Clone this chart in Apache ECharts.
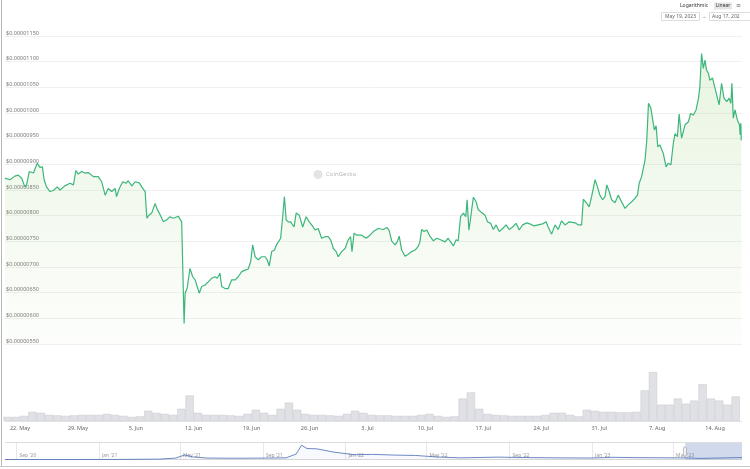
<!DOCTYPE html>
<html><head><meta charset="utf-8">
<script src="https://cdn.jsdelivr.net/npm/echarts@6/dist/echarts.min.js"></script>
<style>html,body{margin:0;padding:0;background:#fff}#c{width:750px;height:469px}</style>
</head><body><div id="c"></div>
<script>
// Price (USD x 1e-6)
const priceTimes = [
'2023-05-20 04:00','2023-05-20 19:00','2023-05-21 09:00','2023-05-21 19:00','2023-05-22 05:00','2023-05-22 14:00','2023-05-22 19:00','2023-05-23 03:00','2023-05-23 15:00','2023-05-23 20:00',
'2023-05-24 02:00','2023-05-24 10:00','2023-05-24 17:00','2023-05-24 22:00','2023-05-25 05:00','2023-05-25 15:00','2023-05-26 01:00','2023-05-26 12:00','2023-05-26 20:00','2023-05-27 10:00',
'2023-05-28 01:00','2023-05-28 11:00','2023-05-28 18:00','2023-05-29 01:00','2023-05-29 11:00','2023-05-29 20:00','2023-05-30 06:00','2023-05-30 21:00','2023-05-31 11:00','2023-05-31 21:00',
'2023-06-01 07:00','2023-06-01 16:00','2023-06-02 02:00','2023-06-02 12:00','2023-06-02 16:00','2023-06-03 00:00','2023-06-03 10:00','2023-06-03 19:00','2023-06-04 02:00','2023-06-04 12:00',
'2023-06-04 22:00','2023-06-05 10:00','2023-06-05 17:00','2023-06-06 03:00','2023-06-06 08:00','2023-06-06 14:00','2023-06-06 22:00','2023-06-07 08:00','2023-06-07 13:00','2023-06-07 20:00',
'2023-06-08 08:00','2023-06-08 18:00','2023-06-09 03:00','2023-06-09 13:00','2023-06-10 03:00','2023-06-10 13:00','2023-06-10 17:00','2023-06-10 20:00','2023-06-10 23:00','2023-06-11 05:00',
'2023-06-11 13:00','2023-06-11 21:00','2023-06-12 04:00','2023-06-12 10:00','2023-06-12 16:00','2023-06-12 23:00','2023-06-13 09:00','2023-06-13 18:00','2023-06-14 04:00','2023-06-14 14:00',
'2023-06-14 20:00','2023-06-15 04:00','2023-06-15 09:00','2023-06-15 19:00','2023-06-16 04:00','2023-06-16 14:00','2023-06-17 00:00','2023-06-17 09:00','2023-06-17 19:00','2023-06-18 05:00',
'2023-06-18 14:00','2023-06-18 21:00','2023-06-19 03:00','2023-06-19 10:00','2023-06-19 19:00','2023-06-20 05:00','2023-06-20 15:00','2023-06-20 21:00','2023-06-21 03:00','2023-06-21 10:00',
'2023-06-21 18:00','2023-06-22 00:00','2023-06-22 05:00','2023-06-22 12:00','2023-06-22 18:00','2023-06-22 23:00','2023-06-23 04:00','2023-06-23 10:00','2023-06-23 17:00','2023-06-24 03:00',
'2023-06-24 09:00','2023-06-24 18:00','2023-06-25 04:00','2023-06-25 14:00','2023-06-25 23:00','2023-06-26 06:00','2023-06-26 16:00','2023-06-27 01:00','2023-06-27 11:00','2023-06-27 21:00',
'2023-06-28 06:00','2023-06-28 13:00','2023-06-28 21:00','2023-06-29 05:00','2023-06-29 11:00','2023-06-29 21:00','2023-06-30 07:00','2023-06-30 16:00','2023-06-30 23:00','2023-07-01 03:00',
'2023-07-01 09:00','2023-07-01 17:00','2023-07-02 07:00','2023-07-02 20:00','2023-07-03 07:00','2023-07-03 17:00','2023-07-04 07:00','2023-07-04 12:00','2023-07-04 22:00','2023-07-05 08:00',
'2023-07-05 15:00','2023-07-05 22:00','2023-07-06 08:00','2023-07-06 14:00','2023-07-06 20:00','2023-07-07 03:00','2023-07-07 13:00','2023-07-07 22:00','2023-07-08 08:00','2023-07-08 18:00',
'2023-07-09 03:00','2023-07-09 08:00','2023-07-09 13:00','2023-07-09 20:00','2023-07-10 04:00','2023-07-10 13:00','2023-07-10 23:00','2023-07-11 09:00','2023-07-11 20:00','2023-07-12 09:00',
'2023-07-12 18:00','2023-07-13 01:00','2023-07-13 09:00','2023-07-13 17:00','2023-07-13 23:00','2023-07-14 06:00','2023-07-14 14:00','2023-07-14 21:00','2023-07-15 01:00','2023-07-15 06:00',
'2023-07-15 11:00','2023-07-15 19:00','2023-07-16 03:00','2023-07-16 09:00','2023-07-16 19:00','2023-07-17 05:00','2023-07-17 12:00','2023-07-17 21:00','2023-07-18 05:00','2023-07-18 13:00',
'2023-07-18 22:00','2023-07-19 08:00','2023-07-19 18:00','2023-07-20 03:00','2023-07-20 13:00','2023-07-20 23:00','2023-07-21 08:00','2023-07-21 18:00','2023-07-22 06:00','2023-07-22 15:00',
'2023-07-23 03:00','2023-07-23 15:00','2023-07-24 04:00','2023-07-24 14:00','2023-07-24 20:00','2023-07-25 06:00','2023-07-25 16:00','2023-07-26 01:00','2023-07-26 11:00','2023-07-26 21:00',
'2023-07-27 09:00','2023-07-28 02:00','2023-07-28 12:00','2023-07-28 21:00','2023-07-29 02:00','2023-07-29 12:00','2023-07-29 19:00','2023-07-30 02:00','2023-07-30 12:00','2023-07-30 19:00',
'2023-07-31 02:00','2023-07-31 10:00','2023-07-31 17:00','2023-07-31 22:00','2023-08-01 05:00','2023-08-01 12:00','2023-08-01 22:00','2023-08-02 07:00','2023-08-02 17:00','2023-08-03 03:00',
'2023-08-03 12:00','2023-08-03 22:00','2023-08-04 08:00','2023-08-04 15:00','2023-08-04 20:00','2023-08-05 03:00','2023-08-05 13:00','2023-08-05 18:00','2023-08-05 23:00','2023-08-06 06:00',
'2023-08-06 11:00','2023-08-06 16:00','2023-08-06 21:00','2023-08-07 02:00','2023-08-07 08:00','2023-08-07 18:00','2023-08-08 02:00','2023-08-08 08:00','2023-08-08 16:00','2023-08-08 23:00',
'2023-08-09 04:00','2023-08-09 11:00','2023-08-09 16:00','2023-08-09 23:00','2023-08-10 09:00','2023-08-10 19:00','2023-08-11 01:00','2023-08-11 09:00','2023-08-11 17:00','2023-08-12 00:00',
'2023-08-12 04:00','2023-08-12 09:00','2023-08-12 14:00','2023-08-12 19:00','2023-08-12 23:00','2023-08-13 05:00','2023-08-13 09:00','2023-08-13 17:00','2023-08-14 00:00','2023-08-14 05:00',
'2023-08-14 12:00','2023-08-14 19:00','2023-08-15 02:00','2023-08-15 10:00','2023-08-15 17:00','2023-08-15 22:00','2023-08-16 01:00','2023-08-16 05:00','2023-08-16 10:00','2023-08-16 17:00',
'2023-08-16 23:00','2023-08-17 01:00','2023-08-17 03:00','2023-08-17 04:00'
];
const priceValues = [
8.73,8.70,8.77,8.79,8.73,8.56,8.60,8.86,8.83,8.92,
9.02,8.94,8.95,8.70,8.56,8.47,8.49,8.56,8.50,8.58,
8.63,8.60,8.88,8.81,8.86,8.83,8.84,8.76,8.76,8.66,
8.40,8.53,8.47,8.53,8.37,8.53,8.66,8.63,8.68,8.58,
8.66,8.64,8.56,8.47,7.95,8.01,8.05,8.24,8.14,8.05,
7.88,7.92,7.98,7.95,7.99,7.88,7.86,5.90,6.49,6.59,
6.97,6.81,6.75,6.62,6.49,6.62,6.65,6.71,6.78,6.81,
6.78,6.88,6.62,6.58,6.58,6.75,6.75,6.81,6.91,6.94,
6.96,7.10,7.43,7.20,7.14,7.20,7.20,7.14,7.02,7.30,
7.33,7.43,7.40,7.56,7.98,8.37,7.92,7.88,7.88,7.78,
8.05,8.01,7.78,7.98,7.88,7.82,7.72,7.75,7.56,7.59,
7.59,7.53,7.36,7.30,7.20,7.30,7.36,7.53,7.59,7.30,
7.66,7.62,7.62,7.56,7.62,7.69,7.75,7.77,7.73,7.77,
7.71,7.51,7.43,7.49,7.60,7.33,7.21,7.25,7.30,7.33,
7.40,7.49,7.73,7.69,7.72,7.60,7.51,7.56,7.53,7.49,
7.56,7.49,7.41,7.53,7.51,7.98,8.05,7.98,8.31,7.72,
7.95,8.36,8.27,8.12,8.06,8.01,7.88,7.85,7.73,7.82,
7.69,7.75,7.82,7.73,7.78,7.85,7.72,7.82,7.86,7.84,
7.80,7.82,7.84,7.88,7.78,7.64,7.82,7.73,7.90,7.82,
7.88,7.86,7.82,7.82,8.32,8.24,8.17,8.37,8.70,8.56,
8.40,8.31,8.37,8.60,8.47,8.31,8.25,8.40,8.27,8.14,
8.21,8.27,8.34,8.40,8.63,8.76,9.08,9.47,10.19,10.09,
10.12,9.67,9.75,9.34,9.38,9.21,8.95,9.02,8.99,9.41,
9.60,9.54,9.98,9.51,9.77,9.83,9.99,9.96,10.06,10.29,
10.51,11.16,10.87,11.03,10.84,10.77,10.64,10.68,10.48,10.45,
10.16,10.58,10.29,10.22,10.29,10.19,10.58,9.90,10.06,9.86,
9.77,9.57,9.80,9.47
];
// Volume (USD millions), daily
const volumeDates = [
'2023-05-20','2023-05-21','2023-05-22','2023-05-23','2023-05-24','2023-05-25','2023-05-26','2023-05-27','2023-05-28','2023-05-29','2023-05-30','2023-05-31',
'2023-06-01','2023-06-02','2023-06-03','2023-06-04','2023-06-05','2023-06-06','2023-06-07','2023-06-08','2023-06-09','2023-06-10',
'2023-06-11','2023-06-12','2023-06-13','2023-06-14','2023-06-15','2023-06-16','2023-06-17','2023-06-18','2023-06-19','2023-06-20',
'2023-06-21','2023-06-22','2023-06-23','2023-06-24','2023-06-25','2023-06-26','2023-06-27','2023-06-28','2023-06-29','2023-06-30',
'2023-07-01','2023-07-02','2023-07-03','2023-07-04','2023-07-05','2023-07-06','2023-07-07','2023-07-08','2023-07-09','2023-07-10',
'2023-07-11','2023-07-12','2023-07-13','2023-07-14','2023-07-15','2023-07-16','2023-07-17','2023-07-18','2023-07-19','2023-07-20',
'2023-07-21','2023-07-22','2023-07-23','2023-07-24','2023-07-25','2023-07-26','2023-07-27','2023-07-28','2023-07-29','2023-07-30','2023-07-31',
'2023-08-01','2023-08-02','2023-08-03','2023-08-04','2023-08-05','2023-08-06','2023-08-07','2023-08-08','2023-08-09','2023-08-10',
'2023-08-11','2023-08-12','2023-08-13','2023-08-14','2023-08-15','2023-08-16'
];
const volumeValues = [
80,80,100,180,160,120,110,100,110,120,120,120,
140,120,100,80,90,200,160,140,120,240,
500,160,120,120,120,110,100,140,220,160,
120,240,360,220,140,120,120,110,100,140,
200,160,120,110,110,100,100,100,120,140,
100,80,90,440,560,240,140,120,110,100,
100,100,100,120,160,160,120,90,220,200,180,
180,170,170,180,600,960,320,320,440,340,
400,720,440,400,320,480
];
const xTickDates = ['2023-05-22','2023-05-29','2023-06-05','2023-06-12','2023-06-19','2023-06-26','2023-07-03','2023-07-10','2023-07-17','2023-07-24','2023-07-31','2023-08-07','2023-08-14'];
const xTickLabels = ['22. May','29. May','5. Jun','12. Jun','19. Jun','26. Jun','3. Jul','10. Jul','17. Jul','24. Jul','31. Jul','7. Aug','14. Aug'];
// Navigator: long-range price (USD x 1e-6)
const navDates = ['2020-08-15','2020-12-01','2021-02-01','2021-04-01','2021-04-25','2021-05-08','2021-05-20','2021-06-10','2021-07-10','2021-08-10','2021-09-10','2021-10-05','2021-10-20','2021-10-28','2021-11-05','2021-11-20','2021-12-15','2022-01-15','2022-02-10','2022-03-15','2022-04-15','2022-05-15','2022-06-20','2022-08-15','2022-09-15','2022-11-10','2022-12-30','2023-02-01','2023-03-10','2023-05-19','2023-06-10','2023-08-11'];
const navValues = [0,0,0.5,2,8,25,14,8,7,7,8,9,30,78,60,58,40,26,28,24,22,14,9,13,11,9,8,12,10,8.8,6,10.5];
const navTickDates = ['2020-09-01','2021-01-01','2021-05-01','2021-09-01','2022-01-01','2022-05-01','2022-09-01','2023-01-01','2023-05-01'];
const navTickLabels = ["Sep '20","Jan '21","May '21","Sep '21","Jan '22","May '22","Sep '22","Jan '23","May '23"];

const P = s => echarts.time.parse(s).getTime();
const FONT = 'Noto Sans';
const chart = echarts.init(document.getElementById('c'), null, {renderer:'canvas'});
const xMin = P('2023-05-20 04:30'), xMax = P('2023-08-17 06:15');
const xTickTs = xTickDates.map(P), navTickTs = navTickDates.map(P);

chart.setOption({
  animation:false,
  backgroundColor:'#fff',
  textStyle:{fontFamily:FONT},
  grid:[
    {left:5,right:8,top:36,height:308},
    {left:5,right:8,top:370,height:51},
    {left:5,right:8,top:443,height:16.5}
  ],
  xAxis:[
    {type:'value',gridIndex:0,min:xMin,max:xMax,axisLine:{show:false},axisTick:{show:false},axisLabel:{show:false},splitLine:{show:false}},
    {type:'value',gridIndex:1,min:xMin,max:xMax,
     axisLine:{show:true,lineStyle:{color:'#e4e6ec',width:1}},axisTick:{show:false,customValues:xTickTs},splitLine:{show:false},
     axisLabel:{customValues:xTickTs,fontSize:5.5,color:'#666',margin:4,fontFamily:FONT,showMinLabel:true,showMaxLabel:true,hideOverlap:false,
       formatter:v=>{const i=xTickTs.indexOf(v);return i>=0?xTickLabels[i]:'';}}},
    {type:'value',gridIndex:2,min:P('2020-08-15'),max:P('2023-08-11'),
     axisLine:{show:true,lineStyle:{color:'#d8d8d8',width:1}},
     axisTick:{show:false,customValues:navTickTs},
     splitLine:{show:true,lineStyle:{color:'#e8e8e8',width:1}},
     axisLabel:{customValues:navTickTs,inside:true,align:'left',fontSize:5,color:'#999',margin:1,padding:[0,0,0,3],fontFamily:FONT,showMinLabel:true,showMaxLabel:true,
       formatter:v=>{const i=navTickTs.indexOf(v);return i>=0?navTickLabels[i]:'';}}}
  ],
  yAxis:[
    {type:'value',gridIndex:0,min:5.5,max:11.5,interval:0.5,
     axisLine:{show:false},axisTick:{show:false},
     splitLine:{show:true,lineStyle:{color:'#f0f0f0',width:1}},
     axisLabel:{inside:true,margin:1,verticalAlign:'bottom',fontSize:5.5,color:'#777',fontFamily:FONT,showMinLabel:true,showMaxLabel:true,
       formatter:v=>'$'+(v*1e-6).toFixed(8)}},
    {type:'value',gridIndex:1,min:0,max:1000,show:false,splitLine:{show:false}},
    {type:'value',gridIndex:2,min:0,max:90,show:false,splitLine:{show:false}}
  ],
  series:[
    {type:'line',xAxisIndex:0,yAxisIndex:0,showSymbol:false,z:3,
     data:priceTimes.map((t,i)=>[P(t),priceValues[i]]),
     lineStyle:{color:'#3cb67b',width:1.2},
     areaStyle:{color:new echarts.graphic.LinearGradient(0,0,0,1,[
       {offset:0,color:'rgba(140,200,100,0.28)'},{offset:1,color:'rgba(140,200,100,0.03)'}])}},
    {type:'bar',xAxisIndex:1,yAxisIndex:1,barWidth:8.2,
     data:volumeDates.map((d,i)=>[P(d+' 12:00'),volumeValues[i]]),
     itemStyle:{color:'#e0e1e5',borderColor:'#c6c7ce',borderWidth:0.5}},
    {type:'line',xAxisIndex:2,yAxisIndex:2,showSymbol:false,
     data:navDates.map((d,i)=>[P(d),navValues[i]]),
     lineStyle:{color:'#4a6cb3',width:0.8},
     areaStyle:{color:'rgba(74,108,179,0.06)'},
     markArea:{silent:true,itemStyle:{color:'rgba(102,133,194,0.3)'},
       data:[[{xAxis:P('2023-05-19')},{xAxis:P('2023-08-17')}]]}}
  ],
  graphic:[
    {type:'line',shape:{x1:1.5,y1:0,x2:1.5,y2:466},style:{stroke:'#b8b8b8',lineWidth:1}},
    {type:'line',shape:{x1:0,y1:466.5,x2:750,y2:466.5},style:{stroke:'#c8c8c8',lineWidth:1}},
    {type:'line',shape:{x1:5,y1:442.5,x2:742,y2:442.5},style:{stroke:'#dddddd',lineWidth:1}},
    {type:'text',x:680,y:6,style:{text:'Logarithmic',fontSize:5,fill:'#333',fontFamily:FONT,verticalAlign:'middle'}},
    {type:'rect',shape:{x:714,y:2.5,width:18,height:7},style:{fill:'#e6e6e6'}},
    {type:'text',x:723,y:6,style:{text:'Linear',fontSize:5,fill:'#333',fontFamily:FONT,align:'center',verticalAlign:'middle'}},
    {type:'text',x:738.5,y:5.5,style:{text:'≡',fontSize:8,fill:'#555',fontFamily:FONT,align:'center',verticalAlign:'middle'}},
    {type:'rect',shape:{x:661.5,y:12.5,width:38,height:8},style:{fill:'#fff',stroke:'#d4d4d4',lineWidth:0.8}},
    {type:'text',x:680.5,y:16.6,style:{text:'May 19, 2023',fontSize:5,fill:'#666',fontFamily:FONT,align:'center',verticalAlign:'middle'}},
    {type:'text',x:704,y:16.6,style:{text:'→',fontSize:5,fill:'#666',fontFamily:FONT,align:'center',verticalAlign:'middle'}},
    {type:'rect',shape:{x:709.5,y:12.5,width:45,height:8},style:{fill:'#fff',stroke:'#d4d4d4',lineWidth:0.8}},
    {type:'text',x:712,y:16.6,style:{text:'Aug 17, 2023',fontSize:5,fill:'#666',fontFamily:FONT,verticalAlign:'middle',width:29,overflow:'truncate',ellipsis:''}},
    {type:'circle',shape:{cx:318,cy:174.5,r:4.5},style:{fill:'#e4e4e4'}},
    {type:'text',x:326,y:174.5,style:{text:'CoinGecko',fontSize:6,fill:'#b8b8b8',fontFamily:FONT,verticalAlign:'middle'}},
    {type:'rect',shape:{x:683.5,y:447,width:3,height:9,r:1},style:{fill:'#f2f2f2',stroke:'#999',lineWidth:0.6},z:100}
  ]
});
</script></body></html>
